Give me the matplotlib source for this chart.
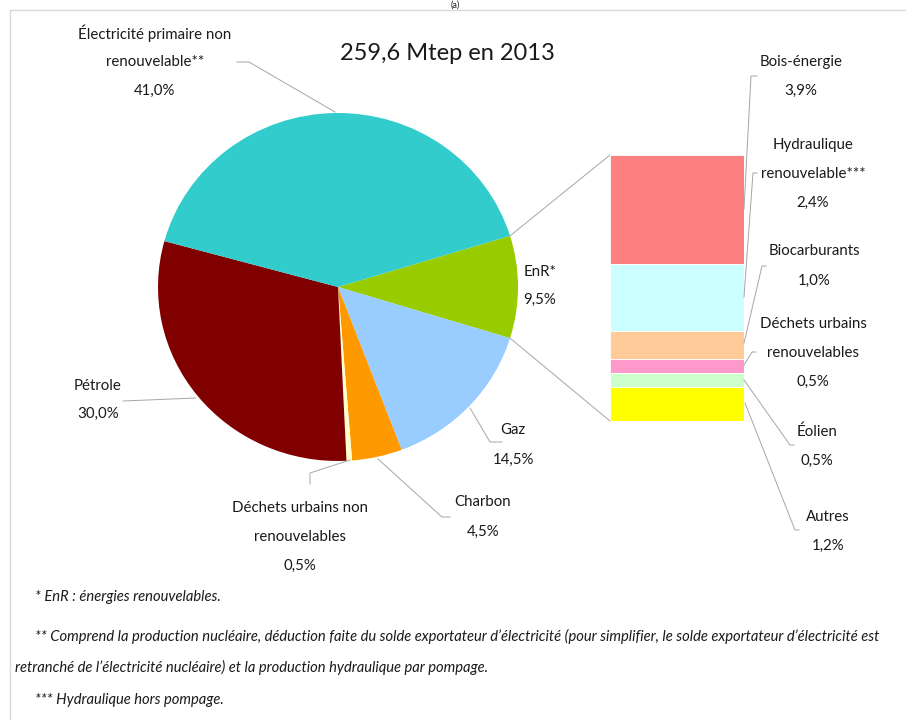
import matplotlib
matplotlib.use("Agg")
import matplotlib.pyplot as plt
from matplotlib.patches import ConnectionPatch
import numpy as np

# ---- data ----
pie_labels = ["EnR*", "Gaz", "Charbon", "Déchets urbains non renouvelables",
              "Pétrole", "Électricité primaire non renouvelable**"]
pie_values = [9.5, 14.5, 4.5, 0.5, 30.0, 41.0]
pie_colors = ["#99CC00", "#99CCFF", "#FF9900", "#FFFFCC", "#800000", "#33CCCC"]

bar_labels = ["Bois-énergie", "Hydraulique renouvelable***", "Biocarburants",
              "Déchets urbains renouvelables", "Éolien", "Autres"]
bar_values = [3.9, 2.4, 1.0, 0.5, 0.5, 1.2]
bar_colors = ["#FF8080", "#CCFFFF", "#FFCC99", "#FF99CC", "#CCFFCC", "#FFFF00"]

title = "259,6 Mtep en 2013"
footnotes = ["* EnR : énergies renouvelables.",
             "** Comprend la production nucléaire, déduction faite du solde exportateur d\u2019électricité (pour simplifier, le solde exportateur d\u2019électricité est",
             "retranché de l\u2019électricité nucléaire) et la production hydraulique par pompage.",
             "*** Hydraulique hors pompage."]

W, H = 906, 720
fig = plt.figure(figsize=(W / 100, H / 100), dpi=100)
LAB = ["Lato", "DejaVu Sans"]
FOOT = ["Lato", "DejaVu Sans"]


def px_axes(x0, y0, x1, y1):
    return fig.add_axes([x0 / W, 1 - y1 / H, (x1 - x0) / W, (y1 - y0) / H])


# overlay axes in pixel coordinates for text and leader lines
ov = fig.add_axes([0, 0, 1, 1])
ov.set_xlim(0, W)
ov.set_ylim(H, 0)
ov.axis("off")
ov.set_zorder(5)
ov.patch.set_alpha(0)

# ---- pie ----
cx, cy, rx, ry = 338, 287, 180, 174
axp = px_axes(cx - rx, cy - ry, cx + rx, cy + ry)
start = 360 * pie_values[0] / 100 / 2
axp.pie(pie_values, colors=pie_colors, startangle=start, counterclock=False,
        radius=1, wedgeprops=dict(linewidth=0))
axp.set_xlim(-1, 1)
axp.set_ylim(-1, 1)
axp.set_aspect("auto")
axp.axis("off")

# ---- bar of pie ----
axb = px_axes(610, 155, 744, 421)
bottoms = np.concatenate([[0], np.cumsum(bar_values)[:-1]])
axb.bar([0] * len(bar_values), bar_values, bottom=bottoms, width=1,
        color=bar_colors, edgecolor="white", linewidth=0.6)
axb.set_xlim(-0.5, 0.5)
axb.set_ylim(sum(bar_values), 0)
axb.axis("off")

# connector lines between pie EnR slice and bar
a = np.deg2rad(start)
for sgn, yb in [(1, 0), (-1, sum(bar_values))]:
    con = ConnectionPatch(xyA=(np.cos(a), sgn * np.sin(a)), coordsA=axp.transData,
                          xyB=(-0.5, yb), coordsB=axb.transData,
                          color="#A6A6A6", linewidth=0.7)
    fig.add_artist(con)

# ---- frame ----
ov.plot([10, W], [10, 10], color="#D9D9D9", lw=1)
ov.plot([10, 10], [10, H], color="#D9D9D9", lw=1)
ov.text(455, 0.5, "(a)", ha="center", va="top", fontsize=6.5, family=LAB,
        color="#222222")

# ---- title ----
ov.text(447, 53, title, ha="center", va="center", fontsize=17, family=LAB,
        color="#1a1a1a")

# ---- labels ----
def lab(x, y, lines, step=29):
    for i, s in enumerate(lines):
        ov.text(x, y + i * step, s, ha="center", va="center", fontsize=10.8,
                family=LAB, color="#1a1a1a")


def leader(pts):
    xs, ys = zip(*pts)
    ov.plot(xs, ys, color="#A6A6A6", lw=0.7)


lab(155, 33, ["Électricité primaire non", "renouvelable**", "41,0%"])
leader([(237, 62), (249, 62), (335, 112)])
lab(540, 272, ["EnR*", "9,5%"], step=28)
lab(513, 430, ["Gaz", "14,5%"], step=30)
leader([(470, 408), (490, 442), (502, 442)])
lab(483, 502, ["Charbon", "4,5%"], step=30)
leader([(378, 459), (442, 517), (450, 517)])
lab(300, 508, ["Déchets urbains non", "renouvelables", "0,5%"])
leader([(350, 460), (310, 473), (310, 484)])
lab(98, 386, ["Pétrole", "30,0%"], step=28)
leader([(123, 401), (196, 398)])

lab(801, 62, ["Bois-énergie", "3,9%"], step=29)
leader([(744, 209), (751, 76), (757, 76)])
lab(813, 145, ["Hydraulique", "renouvelable***", "2,4%"])
leader([(744, 297), (753, 173), (757, 173)])
lab(814, 251, ["Biocarburants", "1,0%"], step=30)
leader([(744, 343), (762, 266), (766, 266)])
lab(813, 324, ["Déchets urbains", "renouvelables", "0,5%"])
leader([(744, 365), (752, 352), (756, 352)])
lab(817, 432, ["Éolien", "0,5%"], step=29)
leader([(744, 380), (790, 445), (794, 445)])
lab(828, 517, ["Autres", "1,2%"], step=29)
leader([(745, 403), (795, 530), (799, 530)])

# ---- footnotes ----
fy = [597, 636, 667, 700]
fx = [35, 35, 15, 35]
for x, y, s in zip(fx, fy, footnotes):
    ov.text(x, y, s, ha="left", va="center", fontsize=10.6, style="italic",
            family=FOOT, color="#1a1a1a", clip_on=False)

fig.savefig("out.png", dpi=100)
